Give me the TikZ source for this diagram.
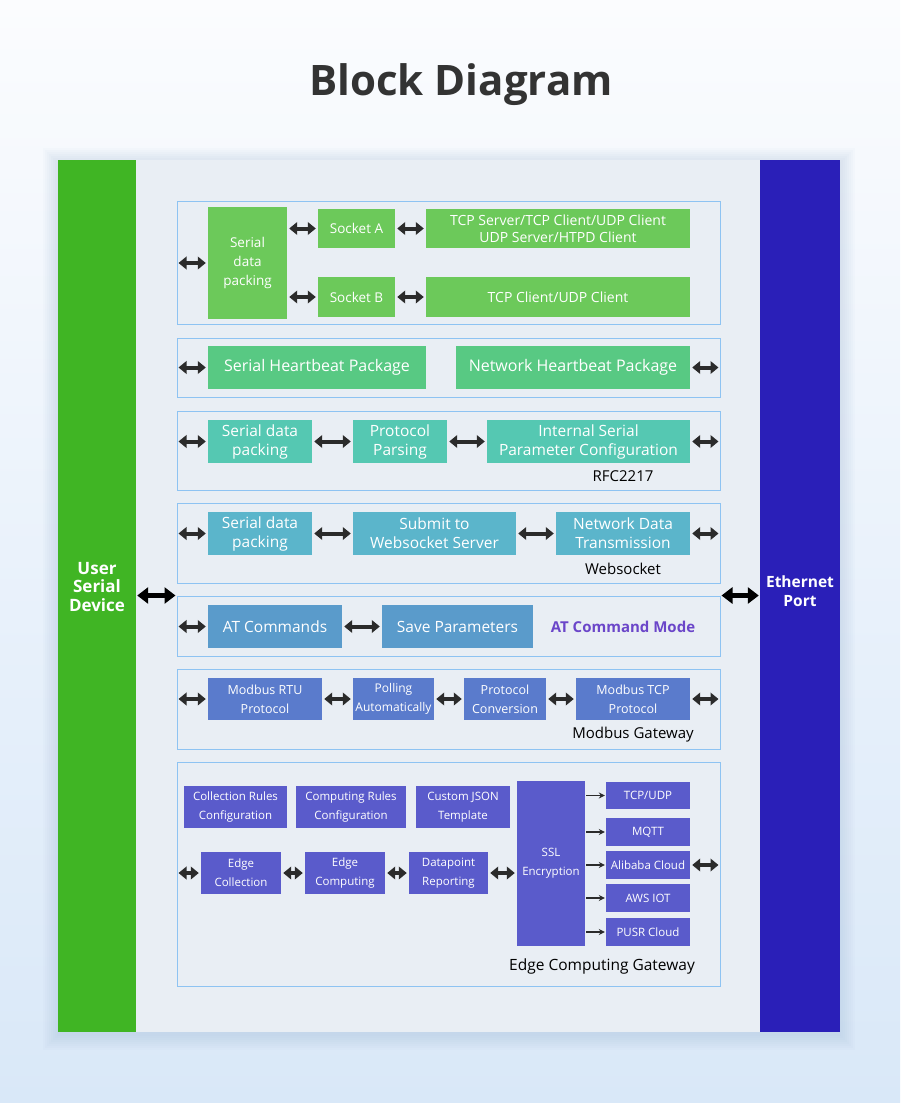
\documentclass[tikz,border=0pt]{standalone}
\usepackage{fontspec}
\setmainfont{Open Sans}
\usetikzlibrary{arrows.meta}
\definecolor{bgtop}{HTML}{FBFCFE}
\definecolor{bgbot}{HTML}{D9E8F8}
\definecolor{titlec}{HTML}{333333}
\definecolor{panelc}{HTML}{E9EEF4}
\definecolor{shadc}{HTML}{9DB6D8}
\definecolor{secb}{HTML}{8EC3F2}
\definecolor{greenbar}{HTML}{40B524}
\definecolor{bluebar}{HTML}{2A1FB8}
\definecolor{cA}{HTML}{6CC95A}
\definecolor{cB}{HTML}{58C983}
\definecolor{cC}{HTML}{55C8B2}
\definecolor{cD}{HTML}{5BB5CB}
\definecolor{cE}{HTML}{5A9BCB}
\definecolor{cF}{HTML}{5A7BCC}
\definecolor{cG}{HTML}{5A5BCB}
\definecolor{arr}{HTML}{2B2B2B}
\definecolor{purp}{HTML}{6B46C9}
\newcommand\bx[8]{\node[box,fill=#6,font={\fontsize{#7}{19}\selectfont},minimum width={#4-#2},minimum height={#5-#3}] (#1) at ({(#2+#4)/2},{(#3+#5)/2}) {#8};}
\newcommand\sect[5]{\node[sec,minimum width={#4-#2},minimum height={#5-#3}] (#1) at ({(#2+#4)/2},{(#3+#5)/2}) {};}
\begin{document}
\begin{tikzpicture}[x=1pt,y=-1pt,
  box/.style={inner sep=0pt,text=white,align=center},
  sec/.style={draw=secb,line width=1pt,fill=panelc,inner sep=0pt},
  dbl/.style={draw=arr,line width=4pt,{Triangle[width=12.5pt,length=8pt]}-{Triangle[width=12.5pt,length=8pt]},shorten <=2pt,shorten >=2pt},
  big/.style={draw=black,line width=5pt,{Triangle[width=16pt,length=11pt]}-{Triangle[width=16pt,length=11pt]},shorten <=1pt,shorten >=1pt},
  thin/.style={draw=arr,line width=1.2pt,-{Stealth[width=6pt,length=6pt]}},
  lab/.style={font=\fontsize{15}{18}\selectfont,text=black},
  bar/.style={inner sep=0pt,text=white,align=center,font=\bfseries}
]
\useasboundingbox (0,0) rectangle (900,1103);
\shade[top color=bgtop,bottom color=bgbot] (0,0) rectangle (900,1103);
\node[font=\fontsize{42}{48}\selectfont\bfseries,text=titlec] (title) at (461,85) {Block Diagram};
% soft shadow of panel
\foreach \d in {1,3,...,15}{
  \fill[shadc,opacity=0.045] (58-\d,160-\d+3) rectangle (840+\d,1032+\d+3);
}
\node[fill=panelc,minimum width=782,minimum height=872,inner sep=0pt] (panel) at (449,596) {};
\node[fill=greenbar,minimum width=78,minimum height=872,inner sep=0pt] (user) at (97,596) {};
\node[fill=bluebar,minimum width=80,minimum height=872,inner sep=0pt] (eth) at (800,596) {};
\node[bar,font={\fontsize{17}{18.5}\selectfont\bfseries}] (usertxt) at (97,587) {User\\Serial\\Device};
\node[bar,font={\fontsize{15.5}{18.5}\selectfont\bfseries}] (ethtxt) at (800,591) {Ethernet\\Port};
% section 1
\sect{s1}{177}{201}{720}{324}
\bx{sdp1}{208}{207}{287}{319}{cA}{13.5}{Serial\\data\\packing}
\bx{sa}{318}{209}{395}{248}{cA}{13.5}{Socket A}
\bx{tcpa}{426}{209}{690}{248}{cA}{14}{TCP Server/TCP Client/UDP Client\\[-2pt]UDP Server/HTPD Client}
\bx{sb}{318}{277}{395}{317}{cA}{13.5}{Socket B}
\bx{tcpb}{426}{277}{690}{317}{cA}{14}{TCP Client/UDP Client}
\draw[dbl] (s1.west |- sdp1.west) -- (sdp1.west);
\draw[dbl] (sdp1.east |- sa.west) -- (sa.west);
\draw[dbl] (sa) -- (tcpa);
\draw[dbl] (sdp1.east |- sb.west) -- (sb.west);
\draw[dbl] (sb) -- (tcpb);
% section 2
\sect{s2}{177}{338}{720}{397}
\bx{shb}{208}{346}{426}{389}{cB}{16}{Serial Heartbeat Package}
\bx{nhb}{456}{346}{690}{389}{cB}{16}{Network Heartbeat Package}
\draw[dbl] (s2.west |- shb.west) -- (shb.west);
\draw[dbl] (nhb.east) -- (s2.east |- nhb.east);
% section 3
\sect{s3}{177}{411}{720}{490}
\bx{sdp3}{208}{420}{312}{463}{cC}{15.5}{Serial data\\packing}
\bx{pp}{353}{420}{447}{463}{cC}{15.5}{Protocol\\Parsing}
\bx{isp}{487}{420}{690}{463}{cC}{15.5}{Internal Serial\\Parameter Configuration}
\node[lab] (rfc) at (623,476) {RFC2217};
\draw[dbl] (s3.west |- sdp3.west) -- (sdp3.west);
\draw[dbl] (sdp3) -- (pp);
\draw[dbl] (pp) -- (isp);
\draw[dbl] (isp.east) -- (s3.east |- isp.east);
% section 4
\sect{s4}{177}{503}{720}{583}
\bx{sdp4}{208}{512}{312}{555}{cD}{15.5}{Serial data\\packing}
\bx{sub}{353}{512}{516}{555}{cD}{15.5}{Submit to\\Websocket Server}
\bx{ndt}{556}{512}{690}{555}{cD}{15.5}{Network Data\\Transmission}
\node[lab] (ws) at (623,569) {Websocket};
\draw[dbl] (s4.west |- sdp4.west) -- (sdp4.west);
\draw[dbl] (sdp4) -- (sub);
\draw[dbl] (sub) -- (ndt);
\draw[dbl] (ndt.east) -- (s4.east |- ndt.east);
% section 5
\sect{s5}{177}{596}{720}{656}
\bx{atc}{208}{605}{342}{648}{cE}{15.5}{AT Commands}
\bx{sav}{382}{605}{533}{648}{cE}{15.5}{Save Parameters}
\node[font=\fontsize{15}{18}\selectfont\bfseries,text=purp] (atm) at (623,627) {AT Command Mode};
\draw[dbl] (s5.west |- atc.west) -- (atc.west);
\draw[dbl] (atc) -- (sav);
% section 6
\sect{s6}{177}{669}{720}{749}
\bx{rtu}{208}{678}{322}{720}{cF}{12.5}{Modbus RTU\\Protocol}
\bx{pol}{353}{678}{434}{720}{cF}{12}{Polling\\Automatically}
\bx{pc}{464}{678}{546}{720}{cF}{12.5}{Protocol\\Conversion}
\bx{mtcp}{576}{678}{690}{720}{cF}{12.5}{Modbus TCP\\Protocol}
\node[lab] (mg) at (633,735) {Modbus Gateway};
\draw[dbl] (s6.west |- rtu.west) -- (rtu.west);
\draw[dbl] (rtu) -- (pol);
\draw[dbl] (pol) -- (pc);
\draw[dbl] (pc) -- (mtcp);
\draw[dbl] (mtcp.east) -- (s6.east |- mtcp.east);
% section 7
\sect{s7}{177}{762}{720}{986}
\bx{crc}{184}{786}{287}{828}{cG}{11.5}{Collection Rules\\Configuration}
\bx{cmp}{296}{786}{406}{828}{cG}{11.5}{Computing Rules\\Configuration}
\bx{cj}{416}{786}{510}{828}{cG}{11.5}{Custom JSON\\Template}
\bx{ec}{201}{852}{281}{894}{cG}{11.5}{Edge\\Collection}
\bx{ecomp}{305}{852}{385}{894}{cG}{11.5}{Edge\\Computing}
\bx{dr}{409}{852}{488}{894}{cG}{11.5}{Datapoint\\Reporting}
\bx{ssl}{517}{781}{585}{946}{cG}{11.5}{SSL\\Encryption}
\bx{tcpu}{606}{782}{690}{809}{cG}{11.5}{TCP/UDP}
\bx{mqtt}{606}{818}{690}{846}{cG}{11.5}{MQTT}
\bx{ali}{606}{851}{690}{879}{cG}{11.5}{Alibaba Cloud}
\bx{aws}{606}{884}{690}{912}{cG}{11.5}{AWS IOT}
\bx{pusr}{606}{918}{690}{946}{cG}{11.5}{PUSR Cloud}
\node[lab,font=\fontsize{15.5}{18}\selectfont] (ecg) at (602,966) {Edge Computing Gateway};
\draw[dbl] (s7.west |- ec.west) -- (ec.west);
\draw[dbl] (ec) -- (ecomp);
\draw[dbl] (ecomp) -- (dr);
\draw[dbl] (dr.east) -- (ssl.west |- dr.east);
\draw[dbl] (ali.east) -- (s7.east |- ali.east);
\foreach \t in {tcpu,mqtt,ali,aws,pusr}{
  \draw[thin] ([xshift=1pt]ssl.east |- \t.west) -- ([xshift=-1pt]\t.west);
}
% big arrows
\draw[big] (user.east |- s5.north west) -- (s5.north west);
\draw[big] (s5.north east) -- (eth.west |- s5.north east);
\end{tikzpicture}
\end{document}
